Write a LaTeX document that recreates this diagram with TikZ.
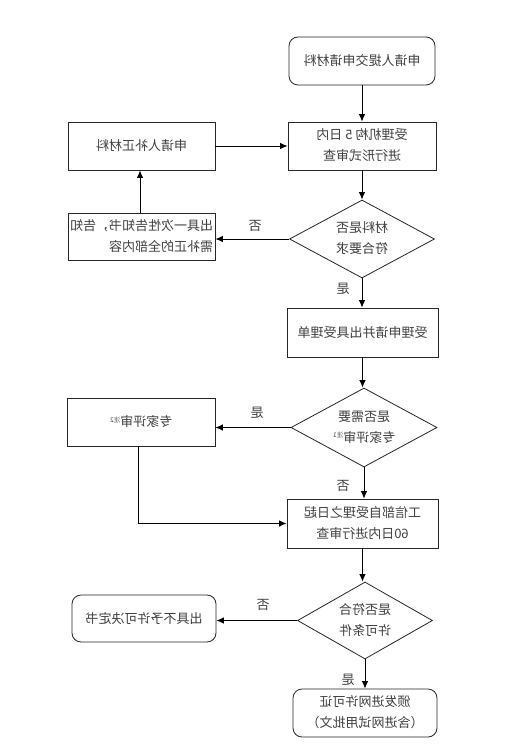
\documentclass[tikz,border=0pt]{standalone}
\usepackage{fontspec}
\usepackage{graphicx}
\setmainfont{Noto Sans CJK SC}
\usetikzlibrary{shapes.geometric,arrows.meta}
\newcommand\mir[1]{\reflectbox{#1}}
\newcommand\mirtwo[3][c]{\reflectbox{\begin{tabular}{@{}#1@{}}#2\\#3\end{tabular}}}
\newcommand\zhu[1]{\textsuperscript{\fontsize{6.5}{7}\selectfont #1}}
\begin{document}
\begin{tikzpicture}[x=1pt,y=-1pt,
  every node/.style={font=\fontsize{13}{21}\selectfont, text=black!75},
  box/.style={draw=black!85, line width=0.8pt, minimum width=147pt, minimum height=48pt, inner sep=0pt, align=center},
  rbox/.style={box, rounded corners=9pt},
  dia/.style={draw=black!85, line width=0.8pt, diamond, aspect=1.85, inner sep=0pt},
  arr/.style={-{Latex[length=7.5pt,width=6.5pt]}, line width=0.9pt, draw=black},
  lab/.style={font=\fontsize{13}{14}\selectfont, text=black!75}]
\useasboundingbox[fill=white] (0,0) rectangle (506,754);

\node[rbox, minimum width=146pt] (b1) at (362,61) {\mir{申请人提交申请材料}};
\node[box, minimum width=148pt] (b2) at (362,146) {\mirtwo{受理机构 5 日内}{进行形式审查}};
\node[box] (b3) at (141.5,146) {\mir{申请人补正材料}};
\node[dia, minimum width=145pt, minimum height=78pt] (d1) at (362,239) {\mirtwo{材料是否}{符合要求}};
\node[box, minimum height=47pt] (b4) at (141.5,236.5) {\mirtwo[l]{出具一次性告知书，告知}{需补正的全部内容}};
\node[box, minimum width=151pt, minimum height=49pt] (b5) at (362.5,332.5) {\mir{受理申请并出具受理单}};
\node[dia, minimum width=146pt, minimum height=79pt] (d2) at (364,427.5) {\mirtwo{是否需要}{专家评审\zhu{注1}}};
\node[box, minimum width=148pt] (b6) at (141,422) {\mir{专家评审\zhu{注2}}};
\node[box, minimum width=151pt, minimum height=49pt] (b7) at (362.5,523.5) {\mirtwo{工信部自受理之日起}{60日内进行审查}};
\node[dia, minimum width=135pt, minimum height=77pt] (d3) at (365,620.5) {\mirtwo{是否符合}{许可条件}};
\node[rbox, minimum width=144pt, minimum height=47pt] (b8) at (144,618.5) {\mir{出具不予许可决定书}};
\node[rbox, minimum width=144pt, minimum height=48pt] (b9) at (365,713) {\mirtwo{颁发进网许可证}{（含进网试用批文）}};

\draw[arr] (b1.south) -- (b1.south |- b2.north);
\draw[arr] (b3.east) -- (b2.west);
\draw[arr] ([xshift=-1.5pt]b4.north) -- ([xshift=-1.5pt]b3.south);
\draw[arr] (b2.south) -- (d1.north);
\draw[arr] (d1.west) -- (d1.west -| b4.east);
\node[lab] (l1) at (255,226) {\mir{否}};
\draw[arr] (d1.south) -- (d1.south |- b5.north);
\node[lab] (l2) at (343,289) {\mir{是}};
\draw[arr] (b5.south) -- (b5.south |- d2.north);
\draw[arr] (d2.west) -- (d2.west -| b6.east);
\node[lab] (l3) at (257,413) {\mir{是}};
\draw[arr] ([xshift=-3pt]b6.south) |- (b7.west);
\draw[arr] (d2.south) -- (d2.south |- b7.north);
\node[lab] (l4) at (343,486) {\mir{否}};
\draw[arr] (b7.south) -- (b7.south |- d3.north);
\draw[arr] (d3.west) -- (d3.west -| b8.east);
\node[lab] (l5) at (263,605) {\mir{否}};
\draw[arr] (d3.south) -- (b9.north);
\node[lab] (l6) at (348,680) {\mir{是}};
\end{tikzpicture}
\end{document}
